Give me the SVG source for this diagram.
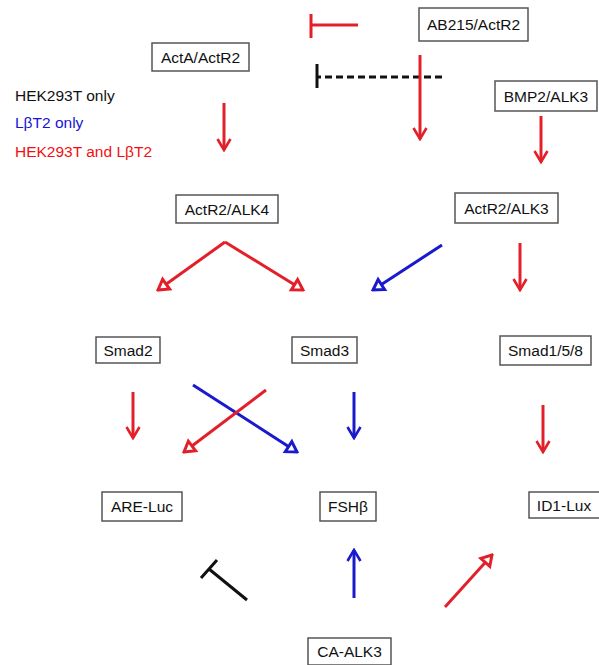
<svg xmlns="http://www.w3.org/2000/svg" width="599" height="665" viewBox="0 0 599 665">
<style>
.box{fill:#fff;stroke:#555;stroke-width:1.5}
.lbl{font-family:"Liberation Sans",Arial,sans-serif;font-size:15.5px;fill:#111;text-anchor:middle}
.leg{font-family:"Liberation Sans",Arial,sans-serif;font-size:15.5px}
.r{stroke:#e3202a;stroke-width:3;fill:none}
.b{stroke:#1a1acc;stroke-width:3;fill:none}
.k{stroke:#111;stroke-width:3;fill:none}
</style>
<defs>
<marker id="rv" markerUnits="userSpaceOnUse" viewBox="-12 -9 14 18" refX="0" refY="0" markerWidth="14" markerHeight="18" orient="auto"><path d="M-11,-6.5 L0,0 L-11,6.5" fill="none" stroke="#e3202a" stroke-width="2.6"/></marker>
<marker id="bv" markerUnits="userSpaceOnUse" viewBox="-12 -9 14 18" refX="0" refY="0" markerWidth="14" markerHeight="18" orient="auto"><path d="M-11,-6.5 L0,0 L-11,6.5" fill="none" stroke="#1a1acc" stroke-width="2.6"/></marker>
<marker id="rt" markerUnits="userSpaceOnUse" viewBox="-14 -9 16 18" refX="0" refY="0" markerWidth="16" markerHeight="18" orient="auto"><path d="M-10,-6 L0,0 L-10,6 Z" fill="#fff" stroke="#e3202a" stroke-width="3"/></marker>
<marker id="bt" markerUnits="userSpaceOnUse" viewBox="-14 -9 16 18" refX="0" refY="0" markerWidth="16" markerHeight="18" orient="auto"><path d="M-10,-6 L0,0 L-10,6 Z" fill="#fff" stroke="#1a1acc" stroke-width="3"/></marker>
</defs>

<g id="legend">
<text class="leg" x="15" y="101" fill="#111">HEK293T only</text>
<text class="leg" x="15" y="128" fill="#1515d8">LβT2 only</text>
<text class="leg" x="15" y="157" fill="#ee1111">HEK293T and LβT2</text>
</g>

<g id="connectors">
<path class="r" d="M358,25 L311,25 M311,14 L311,38"/>
<path class="k" d="M442,77 L318,77" stroke-dasharray="7,4"/>
<path class="k" d="M317,64 L317,88"/>
<path class="r" d="M420,55 L420,139" marker-end="url(#rv)"/>
<path class="r" d="M541,116 L541,162" marker-end="url(#rv)"/>
<path class="r" d="M224,103 L224,150" marker-end="url(#rv)"/>
<path class="r" d="M225,242 L158,290" marker-end="url(#rt)"/>
<path class="r" d="M225,242 L303,290" marker-end="url(#rt)"/>
<path class="b" d="M442,245 L373,290" marker-end="url(#bt)"/>
<path class="r" d="M520,243 L520,290" marker-end="url(#rv)"/>
<path class="r" d="M133,392 L133,438" marker-end="url(#rv)"/>
<path class="b" d="M193,385 L297,452" marker-end="url(#bt)"/>
<path class="r" d="M266,390 L184,452" marker-end="url(#rt)"/>
<path class="b" d="M354,392 L354,438" marker-end="url(#bv)"/>
<path class="r" d="M543,405 L543,452" marker-end="url(#rv)"/>
<path class="k" d="M247,600 L209,569 M201,578 L217,560"/>
<path class="b" d="M354,598 L354,550" marker-end="url(#bv)"/>
<path class="r" d="M445,607 L492,555" marker-end="url(#rt)"/>
</g>

<g id="AB215">
<rect class="box" x="419" y="8" width="109" height="33"/>
<text class="lbl" x="473.5" y="30">AB215/ActR2</text>
</g>
<g id="ActA">
<rect class="box" x="152" y="43" width="97" height="28"/>
<text class="lbl" x="200.5" y="63">ActA/ActR2</text>
</g>
<g id="BMP2">
<rect class="box" x="495" y="81" width="102" height="30"/>
<text class="lbl" x="546" y="102">BMP2/ALK3</text>
</g>
<g id="ActR2ALK4">
<rect class="box" x="176" y="195" width="102" height="28"/>
<text class="lbl" x="227" y="215">ActR2/ALK4</text>
</g>
<g id="ActR2ALK3">
<rect class="box" x="455" y="193" width="103" height="30"/>
<text class="lbl" x="506.5" y="214">ActR2/ALK3</text>
</g>
<g id="Smad2">
<rect class="box" x="96" y="337" width="64" height="26"/>
<text class="lbl" x="128" y="356">Smad2</text>
</g>
<g id="Smad3">
<rect class="box" x="292" y="337" width="65" height="26"/>
<text class="lbl" x="324.5" y="356">Smad3</text>
</g>
<g id="Smad158">
<rect class="box" x="500" y="336" width="91" height="29"/>
<text class="lbl" x="545.5" y="356">Smad1/5/8</text>
</g>
<g id="ARELuc">
<rect class="box" x="102" y="492" width="80" height="29"/>
<text class="lbl" x="142" y="512">ARE-Luc</text>
</g>
<g id="FSHb">
<rect class="box" x="320" y="492" width="56" height="29"/>
<text class="lbl" x="348" y="512">FSHβ</text>
</g>
<g id="ID1Lux">
<rect class="box" x="529" y="492" width="72" height="26"/>
<text class="lbl" x="564" y="511">ID1-Lux</text>
</g>
<g id="CAALK3">
<rect class="box" x="308" y="638" width="83" height="27"/>
<text class="lbl" x="349.5" y="657">CA-ALK3</text>
</g>
</svg>
